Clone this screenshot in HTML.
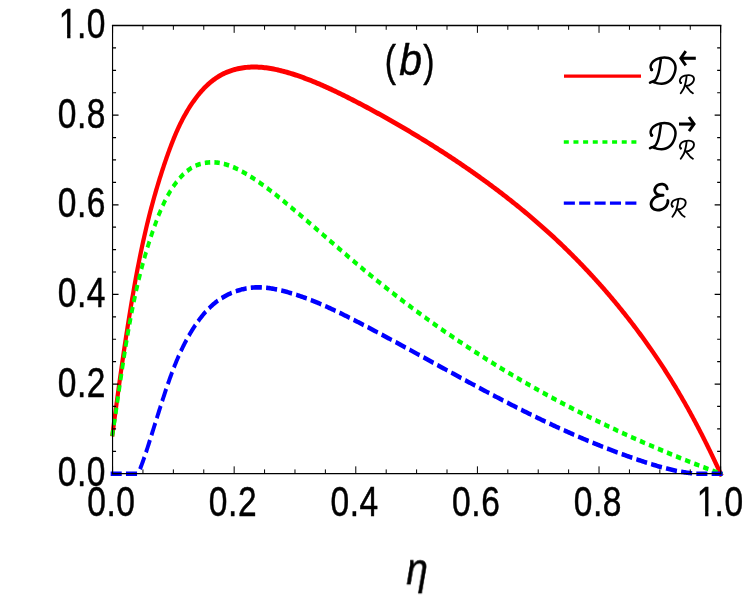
<!DOCTYPE html>
<html><head><meta charset="utf-8"><title>plot (b)</title>
<style>html,body{margin:0;padding:0;background:#fff;}svg{display:block;}text{font-family:"Liberation Sans",sans-serif;fill:#000;stroke:#000;stroke-width:0.5px;}</style>
</head><body>
<svg width="747" height="599" viewBox="0 0 747 599" style="will-change:transform">
<rect x="0" y="0" width="747" height="599" fill="#ffffff"/>
<g transform="scale(0.84,1)" fill="none" stroke-linejoin="round">
<path d="M133.60,436.27 L133.99,433.80 L134.23,432.29 L134.46,430.78 L134.70,429.27 L134.94,427.76 L135.17,426.25 L135.41,424.74 L135.65,423.23 L135.89,421.72 L136.12,420.21 L136.36,418.71 L136.60,417.20 L136.84,415.69 L137.08,414.19 L137.32,412.68 L137.56,411.17 L137.79,409.67 L138.03,408.16 L138.27,406.66 L138.52,405.16 L138.76,403.65 L139.00,402.15 L139.24,400.65 L139.48,399.14 L139.72,397.64 L139.96,396.14 L140.21,394.64 L140.45,393.14 L140.69,391.63 L140.94,390.13 L141.18,388.63 L141.43,387.13 L141.68,385.63 L141.92,384.13 L142.17,382.64 L142.42,381.14 L142.66,379.64 L142.91,378.14 L143.16,376.64 L143.41,375.14 L143.66,373.65 L143.91,372.15 L144.16,370.65 L144.42,369.16 L144.67,367.66 L144.92,366.17 L145.18,364.67 L145.43,363.18 L145.69,361.68 L145.94,360.19 L146.20,358.69 L146.46,357.20 L146.72,355.70 L146.98,354.21 L147.24,352.72 L147.50,351.22 L147.76,349.73 L148.03,348.24 L148.29,346.75 L148.55,345.25 L148.82,343.76 L149.09,342.27 L149.35,340.78 L149.62,339.29 L149.89,337.80 L150.16,336.31 L150.43,334.82 L150.71,333.33 L150.98,331.84 L151.26,330.35 L151.53,328.86 L151.81,327.37 L152.09,325.88 L152.36,324.39 L152.64,322.90 L152.93,321.41 L153.21,319.92 L153.49,318.43 L153.78,316.95 L154.06,315.46 L154.35,313.97 L154.64,312.48 L154.93,311.00 L155.22,309.51 L155.51,308.02 L155.80,306.53 L156.10,305.05 L156.39,303.56 L156.69,302.07 L156.99,300.59 L157.29,299.10 L157.59,297.62 L157.89,296.13 L158.20,294.65 L158.50,293.16 L158.81,291.67 L159.12,290.19 L159.43,288.70 L159.74,287.22 L160.05,285.73 L160.37,284.25 L160.69,282.76 L161.01,281.28 L161.33,279.80 L161.65,278.31 L161.97,276.83 L162.30,275.34 L162.63,273.86 L162.96,272.37 L163.30,270.89 L163.63,269.41 L163.97,267.92 L164.31,266.44 L164.65,264.96 L165.00,263.47 L165.35,261.99 L165.70,260.51 L166.05,259.02 L166.40,257.54 L166.76,256.06 L167.12,254.57 L167.48,253.09 L167.85,251.61 L168.22,250.12 L168.59,248.64 L168.96,247.16 L169.34,245.68 L169.72,244.19 L170.11,242.71 L170.49,241.23 L170.88,239.75 L171.27,238.26 L171.67,236.78 L172.07,235.30 L172.47,233.81 L172.88,232.33 L173.29,230.85 L173.70,229.37 L174.11,227.88 L174.53,226.40 L174.96,224.92 L175.38,223.44 L175.81,221.95 L176.25,220.47 L176.68,218.99 L177.13,217.51 L177.57,216.02 L178.02,214.54 L178.47,213.06 L178.93,211.58 L179.39,210.10 L179.85,208.61 L180.32,207.13 L180.79,205.65 L181.26,204.17 L181.74,202.70 L182.22,201.22 L182.71,199.74 L183.20,198.26 L183.69,196.79 L184.19,195.31 L184.69,193.84 L185.19,192.37 L185.70,190.90 L186.21,189.43 L186.73,187.96 L187.25,186.49 L187.77,185.03 L188.29,183.56 L188.82,182.10 L189.36,180.64 L189.89,179.18 L190.43,177.73 L190.98,176.27 L191.53,174.82 L192.08,173.37 L192.63,171.92 L193.19,170.47 L193.75,169.03 L194.32,167.58 L194.89,166.14 L195.46,164.70 L196.04,163.27 L196.62,161.84 L197.20,160.41 L197.79,158.98 L198.38,157.55 L198.97,156.13 L199.57,154.71 L200.17,153.30 L200.78,151.88 L201.39,150.47 L202.00,149.06 L202.62,147.66 L203.25,146.26 L203.88,144.86 L204.51,143.47 L205.16,142.08 L205.81,140.69 L206.47,139.31 L207.13,137.93 L207.81,136.55 L208.49,135.18 L209.18,133.81 L209.88,132.44 L210.59,131.08 L211.32,129.73 L212.05,128.37 L212.79,127.03 L213.54,125.68 L214.31,124.34 L215.09,123.00 L215.88,121.67 L216.68,120.35 L217.50,119.02 L218.33,117.71 L219.17,116.39 L220.03,115.09 L220.91,113.78 L221.79,112.48 L222.70,111.19 L223.62,109.90 L224.56,108.62 L225.51,107.34 L226.48,106.07 L227.47,104.80 L228.47,103.54 L229.50,102.28 L230.54,101.03 L231.60,99.78 L232.69,98.55 L233.79,97.32 L234.91,96.10 L236.05,94.89 L237.20,93.70 L238.38,92.52 L239.58,91.36 L240.80,90.21 L242.04,89.08 L243.30,87.97 L244.58,86.88 L245.88,85.81 L247.21,84.76 L248.55,83.74 L249.92,82.74 L251.30,81.77 L252.71,80.82 L254.14,79.91 L255.60,79.02 L257.07,78.16 L258.57,77.34 L260.08,76.54 L261.61,75.78 L263.17,75.04 L264.74,74.34 L266.32,73.67 L267.93,73.03 L269.55,72.42 L271.19,71.84 L272.84,71.30 L274.50,70.79 L276.18,70.31 L277.87,69.87 L279.58,69.46 L281.29,69.09 L283.02,68.75 L284.76,68.44 L286.50,68.16 L288.26,67.92 L290.02,67.71 L291.79,67.52 L293.56,67.37 L295.35,67.25 L297.13,67.15 L298.92,67.09 L300.72,67.05 L302.51,67.04 L304.31,67.05 L306.11,67.09 L307.91,67.16 L309.71,67.25 L311.51,67.36 L313.30,67.50 L315.10,67.65 L316.88,67.83 L318.67,68.04 L320.45,68.26 L322.23,68.50 L324.01,68.76 L325.78,69.04 L327.55,69.34 L329.31,69.65 L331.07,69.98 L332.83,70.33 L334.58,70.69 L336.33,71.07 L338.08,71.46 L339.82,71.86 L341.56,72.27 L343.29,72.70 L345.02,73.13 L346.75,73.58 L348.48,74.04 L350.20,74.50 L351.92,74.98 L353.63,75.46 L355.34,75.95 L357.05,76.45 L358.76,76.96 L360.46,77.47 L362.15,77.99 L363.85,78.53 L365.54,79.06 L367.23,79.61 L368.92,80.16 L370.60,80.72 L372.28,81.29 L373.95,81.86 L375.63,82.44 L377.30,83.03 L378.96,83.62 L380.63,84.22 L382.29,84.82 L383.95,85.43 L385.61,86.04 L387.26,86.66 L388.91,87.29 L390.56,87.92 L392.20,88.55 L393.85,89.19 L395.49,89.84 L397.12,90.48 L398.76,91.14 L400.39,91.79 L402.02,92.45 L403.65,93.11 L405.28,93.78 L406.90,94.45 L408.52,95.12 L410.14,95.80 L411.75,96.48 L413.37,97.16 L414.98,97.84 L416.59,98.53 L418.20,99.21 L419.80,99.90 L421.41,100.59 L423.01,101.29 L424.61,101.98 L426.20,102.68 L427.80,103.38 L429.39,104.08 L430.98,104.78 L432.57,105.49 L434.16,106.20 L435.75,106.90 L437.33,107.62 L438.92,108.33 L440.50,109.04 L442.08,109.76 L443.65,110.48 L445.23,111.20 L446.81,111.92 L448.38,112.65 L449.95,113.37 L451.52,114.10 L453.09,114.83 L454.66,115.56 L456.22,116.30 L457.79,117.03 L459.35,117.77 L460.92,118.51 L462.48,119.25 L464.04,119.99 L465.60,120.74 L467.15,121.49 L468.71,122.24 L470.27,122.99 L471.82,123.74 L473.38,124.49 L474.93,125.25 L476.48,126.01 L478.03,126.77 L479.58,127.53 L481.13,128.29 L482.68,129.06 L484.23,129.82 L485.77,130.59 L487.32,131.36 L488.86,132.14 L490.41,132.91 L491.95,133.69 L493.49,134.46 L495.03,135.24 L496.57,136.03 L498.11,136.81 L499.65,137.60 L501.18,138.38 L502.72,139.17 L504.25,139.96 L505.78,140.76 L507.31,141.55 L508.85,142.35 L510.37,143.15 L511.90,143.95 L513.43,144.75 L514.95,145.56 L516.48,146.36 L518.00,147.17 L519.52,147.98 L521.04,148.80 L522.56,149.61 L524.08,150.43 L525.60,151.25 L527.11,152.07 L528.62,152.89 L530.14,153.71 L531.65,154.54 L533.16,155.37 L534.66,156.20 L536.17,157.03 L537.67,157.87 L539.18,158.70 L540.68,159.54 L542.18,160.38 L543.68,161.23 L545.18,162.07 L546.67,162.92 L548.17,163.77 L549.66,164.62 L551.15,165.47 L552.64,166.33 L554.13,167.18 L555.61,168.04 L557.10,168.90 L558.58,169.77 L560.06,170.63 L561.54,171.50 L563.02,172.37 L564.49,173.24 L565.97,174.12 L567.44,174.99 L568.91,175.87 L570.38,176.75 L571.84,177.64 L573.31,178.52 L574.77,179.41 L576.23,180.30 L577.69,181.19 L579.15,182.08 L580.61,182.98 L582.06,183.88 L583.51,184.78 L584.96,185.68 L586.41,186.58 L587.85,187.49 L589.30,188.40 L590.74,189.31 L592.18,190.23 L593.62,191.14 L595.05,192.06 L596.49,192.98 L597.92,193.90 L599.35,194.83 L600.77,195.75 L602.20,196.68 L603.62,197.62 L605.04,198.55 L606.46,199.49 L607.88,200.42 L609.29,201.36 L610.70,202.31 L612.11,203.25 L613.52,204.20 L614.93,205.15 L616.33,206.10 L617.73,207.06 L619.13,208.02 L620.52,208.97 L621.92,209.94 L623.31,210.90 L624.70,211.87 L626.08,212.84 L627.47,213.81 L628.85,214.78 L630.23,215.76 L631.61,216.73 L632.98,217.72 L634.35,218.70 L635.72,219.68 L637.09,220.67 L638.45,221.66 L639.81,222.66 L641.17,223.65 L642.53,224.65 L643.88,225.65 L645.24,226.65 L646.58,227.66 L647.93,228.66 L649.27,229.67 L650.61,230.69 L651.95,231.70 L653.29,232.72 L654.62,233.74 L655.95,234.76 L657.28,235.79 L658.60,236.81 L659.92,237.84 L661.24,238.87 L662.56,239.91 L663.87,240.95 L665.18,241.99 L666.49,243.03 L667.80,244.07 L669.10,245.12 L670.40,246.17 L671.70,247.22 L672.99,248.28 L674.28,249.33 L675.57,250.39 L676.85,251.45 L678.14,252.52 L679.42,253.58 L680.69,254.65 L681.97,255.72 L683.24,256.80 L684.51,257.87 L685.77,258.95 L687.04,260.03 L688.30,261.11 L689.55,262.20 L690.81,263.29 L692.06,264.38 L693.31,265.47 L694.55,266.56 L695.80,267.66 L697.04,268.76 L698.27,269.86 L699.51,270.96 L700.74,272.07 L701.97,273.18 L703.19,274.29 L704.42,275.40 L705.64,276.52 L706.85,277.63 L708.07,278.75 L709.28,279.87 L710.48,281.00 L711.69,282.12 L712.89,283.25 L714.09,284.38 L715.29,285.51 L716.48,286.65 L717.67,287.79 L718.86,288.93 L720.04,290.07 L721.22,291.21 L722.40,292.36 L723.58,293.50 L724.75,294.65 L725.92,295.81 L727.09,296.96 L728.25,298.12 L729.41,299.28 L730.57,300.44 L731.72,301.60 L732.87,302.76 L734.02,303.93 L735.17,305.10 L736.31,306.27 L737.45,307.44 L738.59,308.62 L739.72,309.80 L740.85,310.98 L741.98,312.16 L743.10,313.34 L744.22,314.53 L745.34,315.71 L746.46,316.90 L747.57,318.09 L748.68,319.29 L749.78,320.48 L750.88,321.68 L751.98,322.88 L753.08,324.08 L754.17,325.28 L755.26,326.49 L756.35,327.70 L757.44,328.91 L758.52,330.12 L759.59,331.33 L760.67,332.55 L761.74,333.76 L762.81,334.98 L763.87,336.20 L764.94,337.43 L765.99,338.65 L767.05,339.88 L768.10,341.10 L769.15,342.34 L770.20,343.57 L771.24,344.80 L772.28,346.04 L773.31,347.27 L774.35,348.51 L775.38,349.76 L776.40,351.00 L777.43,352.24 L778.45,353.49 L779.46,354.74 L780.47,355.99 L781.48,357.24 L782.49,358.50 L783.49,359.75 L784.49,361.01 L785.49,362.27 L786.48,363.53 L787.47,364.79 L788.45,366.06 L789.44,367.32 L790.41,368.59 L791.39,369.86 L792.36,371.13 L793.33,372.41 L794.29,373.68 L795.25,374.96 L796.21,376.24 L797.17,377.52 L798.12,378.80 L799.06,380.08 L800.01,381.37 L800.95,382.65 L801.88,383.94 L802.82,385.23 L803.75,386.53 L804.67,387.82 L805.60,389.11 L806.52,390.41 L807.43,391.71 L808.35,393.01 L809.26,394.31 L810.16,395.61 L811.07,396.92 L811.97,398.22 L812.86,399.53 L813.76,400.84 L814.65,402.15 L815.54,403.46 L816.42,404.78 L817.30,406.09 L818.18,407.41 L819.06,408.73 L819.93,410.05 L820.80,411.37 L821.67,412.70 L822.53,414.02 L823.39,415.35 L824.25,416.67 L825.10,418.00 L825.95,419.33 L826.80,420.67 L827.65,422.00 L828.49,423.34 L829.33,424.67 L830.17,426.01 L831.01,427.35 L831.84,428.69 L832.67,430.03 L833.50,431.38 L834.32,432.72 L835.14,434.07 L835.96,435.42 L836.78,436.77 L837.59,438.12 L838.40,439.47 L839.21,440.82 L840.02,442.18 L840.82,443.53 L841.62,444.89 L842.42,446.25 L843.22,447.61 L844.01,448.97 L844.81,450.33 L845.59,451.70 L846.38,453.06 L847.17,454.43 L847.95,455.80 L848.73,457.17 L849.51,458.54 L850.28,459.91 L851.05,461.28 L851.83,462.66 L852.59,464.03 L853.36,465.41 L854.13,466.79 L854.89,468.17 L855.65,469.55 L856.41,470.93 L857.16,472.32 L857.92,473.70 L859.21,476.07" stroke="#ff0000" stroke-width="5.0"/>
<path d="M133.57,436.04 L133.99,433.80 L134.22,432.52 L134.46,431.24 L134.70,429.97 L134.93,428.69 L135.16,427.41 L135.40,426.13 L135.63,424.85 L135.86,423.57 L136.09,422.29 L136.32,421.01 L136.55,419.73 L136.78,418.45 L137.00,417.17 L137.23,415.89 L137.46,414.61 L137.68,413.33 L137.91,412.05 L138.13,410.77 L138.36,409.49 L138.58,408.21 L138.81,406.93 L139.03,405.64 L139.25,404.36 L139.48,403.08 L139.70,401.80 L139.92,400.52 L140.15,399.24 L140.37,397.95 L140.59,396.67 L140.81,395.39 L141.04,394.11 L141.26,392.82 L141.48,391.54 L141.71,390.26 L141.93,388.98 L142.15,387.70 L142.37,386.41 L142.60,385.13 L142.82,383.85 L143.05,382.57 L143.27,381.28 L143.50,380.00 L143.72,378.72 L143.95,377.44 L144.17,376.15 L144.40,374.87 L144.63,373.59 L144.85,372.31 L145.08,371.03 L145.31,369.74 L145.54,368.46 L145.77,367.18 L146.00,365.90 L146.24,364.62 L146.47,363.34 L146.70,362.05 L146.94,360.77 L147.17,359.49 L147.41,358.21 L147.64,356.93 L147.88,355.65 L148.12,354.37 L148.36,353.09 L148.60,351.81 L148.85,350.53 L149.09,349.25 L149.33,347.97 L149.58,346.69 L149.83,345.41 L150.08,344.14 L150.33,342.86 L150.58,341.58 L150.83,340.30 L151.09,339.02 L151.34,337.75 L151.60,336.47 L151.86,335.19 L152.12,333.92 L152.38,332.64 L152.64,331.36 L152.91,330.09 L153.18,328.81 L153.45,327.54 L153.72,326.26 L153.99,324.99 L154.26,323.72 L154.54,322.44 L154.82,321.17 L155.10,319.90 L155.38,318.62 L155.66,317.35 L155.95,316.08 L156.24,314.81 L156.53,313.54 L156.82,312.27 L157.11,311.00 L157.41,309.73 L157.71,308.46 L158.01,307.19 L158.31,305.92 L158.62,304.65 L158.93,303.39 L159.24,302.12 L159.55,300.85 L159.86,299.59 L160.18,298.32 L160.50,297.06 L160.83,295.79 L161.15,294.53 L161.48,293.27 L161.81,292.00 L162.14,290.74 L162.48,289.48 L162.82,288.22 L163.16,286.96 L163.51,285.70 L163.85,284.44 L164.20,283.18 L164.56,281.92 L164.91,280.66 L165.27,279.40 L165.64,278.15 L166.00,276.89 L166.37,275.64 L166.74,274.38 L167.12,273.13 L167.50,271.88 L167.88,270.62 L168.26,269.37 L168.65,268.12 L169.04,266.87 L169.44,265.62 L169.83,264.37 L170.23,263.12 L170.64,261.87 L171.05,260.63 L171.46,259.38 L171.88,258.13 L172.30,256.89 L172.72,255.64 L173.14,254.40 L173.57,253.16 L174.01,251.92 L174.45,250.67 L174.89,249.43 L175.33,248.19 L175.78,246.95 L176.24,245.72 L176.69,244.48 L177.15,243.24 L177.62,242.01 L178.09,240.77 L178.56,239.54 L179.04,238.31 L179.52,237.07 L180.01,235.84 L180.50,234.61 L180.99,233.38 L181.49,232.15 L181.99,230.92 L182.50,229.70 L183.01,228.47 L183.52,227.25 L184.04,226.02 L184.57,224.80 L185.10,223.58 L185.63,222.35 L186.17,221.13 L186.71,219.92 L187.26,218.70 L187.82,217.48 L188.38,216.27 L188.95,215.06 L189.52,213.85 L190.11,212.64 L190.70,211.44 L191.30,210.24 L191.91,209.05 L192.52,207.86 L193.15,206.67 L193.79,205.49 L194.43,204.31 L195.09,203.14 L195.76,201.97 L196.44,200.80 L197.13,199.65 L197.83,198.50 L198.55,197.35 L199.27,196.21 L200.01,195.08 L200.77,193.95 L201.54,192.84 L202.32,191.73 L203.12,190.62 L203.93,189.53 L204.76,188.44 L205.61,187.36 L206.47,186.29 L207.35,185.23 L208.24,184.18 L209.15,183.14 L210.08,182.10 L211.03,181.08 L212.00,180.07 L212.98,179.08 L213.99,178.10 L215.01,177.14 L216.06,176.19 L217.12,175.27 L218.21,174.36 L219.32,173.48 L220.44,172.63 L221.60,171.79 L222.77,170.99 L223.96,170.21 L225.18,169.46 L226.43,168.75 L227.69,168.06 L228.98,167.41 L230.30,166.80 L231.64,166.22 L233.01,165.68 L234.40,165.18 L235.81,164.72 L237.26,164.30 L238.72,163.92 L240.21,163.58 L241.71,163.29 L243.23,163.03 L244.77,162.82 L246.31,162.64 L247.86,162.51 L249.42,162.41 L250.98,162.35 L252.55,162.33 L254.11,162.35 L255.67,162.41 L257.22,162.50 L258.76,162.63 L260.30,162.80 L261.82,163.01 L263.33,163.24 L264.84,163.52 L266.33,163.82 L267.82,164.15 L269.30,164.52 L270.77,164.91 L272.22,165.32 L273.68,165.77 L275.12,166.23 L276.55,166.72 L277.98,167.24 L279.39,167.77 L280.80,168.32 L282.20,168.89 L283.59,169.47 L284.98,170.08 L286.36,170.69 L287.73,171.32 L289.09,171.96 L290.44,172.61 L291.79,173.27 L293.13,173.93 L294.47,174.61 L295.80,175.29 L297.12,175.98 L298.43,176.67 L299.74,177.37 L301.04,178.08 L302.34,178.79 L303.63,179.51 L304.91,180.23 L306.19,180.96 L307.47,181.70 L308.74,182.44 L310.00,183.19 L311.26,183.94 L312.52,184.70 L313.77,185.46 L315.01,186.22 L316.25,186.99 L317.49,187.77 L318.72,188.54 L319.95,189.33 L321.18,190.11 L322.40,190.90 L323.62,191.69 L324.84,192.49 L326.05,193.29 L327.26,194.09 L328.46,194.90 L329.67,195.70 L330.87,196.51 L332.07,197.33 L333.27,198.14 L334.46,198.96 L335.65,199.78 L336.85,200.60 L338.04,201.42 L339.22,202.24 L340.41,203.06 L341.60,203.89 L342.78,204.72 L343.97,205.54 L345.15,206.37 L346.33,207.20 L347.51,208.03 L348.69,208.87 L349.87,209.70 L351.05,210.53 L352.22,211.37 L353.40,212.20 L354.57,213.04 L355.75,213.88 L356.92,214.71 L358.09,215.55 L359.26,216.39 L360.43,217.23 L361.60,218.07 L362.77,218.92 L363.94,219.76 L365.11,220.60 L366.28,221.44 L367.44,222.29 L368.61,223.13 L369.77,223.98 L370.94,224.82 L372.10,225.67 L373.27,226.52 L374.43,227.36 L375.60,228.21 L376.76,229.06 L377.92,229.90 L379.09,230.75 L380.25,231.60 L381.41,232.45 L382.57,233.30 L383.74,234.15 L384.90,234.99 L386.06,235.84 L387.22,236.69 L388.38,237.54 L389.55,238.39 L390.71,239.24 L391.87,240.09 L393.03,240.94 L394.19,241.79 L395.36,242.63 L396.52,243.48 L397.68,244.33 L398.85,245.18 L400.01,246.03 L401.17,246.87 L402.34,247.72 L403.50,248.57 L404.67,249.41 L405.83,250.26 L407.00,251.11 L408.16,251.95 L409.33,252.80 L410.50,253.64 L411.67,254.48 L412.84,255.33 L414.00,256.17 L415.17,257.01 L416.35,257.85 L417.52,258.69 L418.69,259.53 L419.86,260.37 L421.04,261.21 L422.21,262.05 L423.39,262.89 L424.56,263.72 L425.74,264.56 L426.92,265.39 L428.10,266.22 L429.28,267.06 L430.46,267.89 L431.64,268.72 L432.83,269.55 L434.01,270.38 L435.20,271.20 L436.39,272.03 L437.57,272.86 L438.76,273.68 L439.95,274.50 L441.15,275.32 L442.34,276.15 L443.53,276.97 L444.73,277.78 L445.93,278.60 L447.12,279.42 L448.32,280.24 L449.52,281.05 L450.72,281.86 L451.92,282.68 L453.13,283.49 L454.33,284.30 L455.54,285.11 L456.74,285.92 L457.95,286.72 L459.16,287.53 L460.37,288.33 L461.58,289.14 L462.79,289.94 L464.00,290.74 L465.22,291.54 L466.43,292.34 L467.65,293.14 L468.86,293.94 L470.08,294.74 L471.30,295.53 L472.52,296.32 L473.74,297.12 L474.97,297.91 L476.19,298.70 L477.41,299.49 L478.64,300.28 L479.87,301.07 L481.09,301.85 L482.32,302.64 L483.55,303.42 L484.78,304.21 L486.02,304.99 L487.25,305.77 L488.48,306.55 L489.72,307.33 L490.95,308.10 L492.19,308.88 L493.43,309.66 L494.67,310.43 L495.91,311.20 L497.15,311.97 L498.39,312.74 L499.64,313.51 L500.88,314.28 L502.13,315.05 L503.37,315.82 L504.62,316.58 L505.87,317.34 L507.12,318.11 L508.37,318.87 L509.62,319.63 L510.87,320.39 L512.13,321.15 L513.38,321.90 L514.64,322.66 L515.90,323.41 L517.15,324.17 L518.41,324.92 L519.67,325.67 L520.93,326.42 L522.19,327.17 L523.46,327.92 L524.72,328.66 L525.99,329.41 L527.25,330.15 L528.52,330.90 L529.79,331.64 L531.05,332.38 L532.32,333.12 L533.59,333.85 L534.87,334.59 L536.14,335.33 L537.41,336.06 L538.69,336.80 L539.96,337.53 L541.24,338.26 L542.52,338.99 L543.79,339.72 L545.07,340.44 L546.35,341.17 L547.63,341.89 L548.92,342.62 L550.20,343.34 L551.48,344.06 L552.77,344.78 L554.05,345.50 L555.34,346.22 L556.63,346.94 L557.92,347.65 L559.21,348.36 L560.50,349.08 L561.79,349.79 L563.08,350.50 L564.38,351.21 L565.67,351.92 L566.97,352.62 L568.26,353.33 L569.56,354.03 L570.86,354.73 L572.16,355.44 L573.46,356.14 L574.76,356.84 L576.06,357.53 L577.36,358.23 L578.66,358.93 L579.97,359.62 L581.27,360.31 L582.58,361.00 L583.89,361.69 L585.20,362.38 L586.50,363.07 L587.81,363.76 L589.13,364.44 L590.44,365.13 L591.75,365.81 L593.06,366.49 L594.38,367.17 L595.69,367.85 L597.01,368.53 L598.33,369.20 L599.64,369.88 L600.96,370.55 L602.28,371.22 L603.60,371.90 L604.92,372.57 L606.25,373.23 L607.57,373.90 L608.89,374.57 L610.22,375.23 L611.54,375.90 L612.87,376.56 L614.20,377.22 L615.53,377.88 L616.85,378.54 L618.18,379.19 L619.52,379.85 L620.85,380.50 L622.18,381.16 L623.51,381.81 L624.85,382.46 L626.18,383.11 L627.52,383.76 L628.85,384.40 L630.19,385.05 L631.53,385.69 L632.87,386.33 L634.21,386.97 L635.55,387.61 L636.89,388.25 L638.23,388.89 L639.58,389.52 L640.92,390.16 L642.27,390.79 L643.61,391.42 L644.96,392.05 L646.31,392.68 L647.66,393.31 L649.00,393.94 L650.35,394.56 L651.70,395.19 L653.06,395.81 L654.41,396.43 L655.76,397.05 L657.11,397.67 L658.47,398.29 L659.82,398.90 L661.18,399.52 L662.54,400.13 L663.90,400.74 L665.25,401.35 L666.61,401.96 L667.97,402.57 L669.33,403.18 L670.70,403.78 L672.06,404.39 L673.42,404.99 L674.79,405.59 L676.15,406.19 L677.52,406.79 L678.88,407.39 L680.25,407.98 L681.62,408.58 L682.99,409.17 L684.35,409.77 L685.72,410.36 L687.10,410.95 L688.47,411.54 L689.84,412.13 L691.21,412.71 L692.59,413.30 L693.96,413.88 L695.34,414.46 L696.71,415.04 L698.09,415.63 L699.47,416.20 L700.84,416.78 L702.22,417.36 L703.60,417.93 L704.98,418.51 L706.36,419.08 L707.75,419.65 L709.13,420.22 L710.51,420.79 L711.90,421.36 L713.28,421.93 L714.67,422.49 L716.05,423.06 L717.44,423.62 L718.83,424.18 L720.21,424.74 L721.60,425.30 L722.99,425.86 L724.38,426.42 L725.77,426.97 L727.17,427.53 L728.56,428.08 L729.95,428.63 L731.35,429.18 L732.74,429.73 L734.13,430.28 L735.53,430.83 L736.93,431.37 L738.32,431.92 L739.72,432.46 L741.12,433.01 L742.52,433.55 L743.92,434.09 L745.32,434.63 L746.72,435.16 L748.12,435.70 L749.53,436.24 L750.93,436.77 L752.33,437.31 L753.74,437.84 L755.14,438.37 L756.55,438.90 L757.96,439.43 L759.36,439.95 L760.77,440.48 L762.18,441.01 L763.59,441.53 L765.00,442.05 L766.41,442.58 L767.82,443.10 L769.23,443.62 L770.64,444.13 L772.06,444.65 L773.47,445.17 L774.88,445.68 L776.30,446.20 L777.71,446.71 L779.13,447.22 L780.55,447.73 L781.96,448.24 L783.38,448.75 L784.80,449.26 L786.22,449.76 L787.64,450.27 L789.06,450.77 L790.48,451.27 L791.90,451.78 L793.32,452.28 L794.75,452.78 L796.17,453.27 L797.60,453.77 L799.02,454.27 L800.44,454.76 L801.87,455.26 L803.30,455.75 L804.72,456.24 L806.15,456.73 L807.58,457.22 L809.01,457.71 L810.44,458.20 L811.87,458.69 L813.30,459.17 L814.73,459.65 L816.16,460.14 L817.59,460.62 L819.03,461.10 L820.46,461.58 L821.89,462.06 L823.33,462.54 L824.76,463.02 L826.20,463.49 L827.63,463.97 L829.07,464.44 L830.51,464.91 L831.95,465.39 L833.38,465.86 L834.82,466.33 L836.26,466.79 L837.70,467.26 L839.14,467.73 L840.58,468.19 L842.02,468.66 L843.47,469.12 L844.91,469.58 L846.35,470.05 L847.80,470.51 L849.24,470.97 L850.69,471.42 L852.13,471.88 L853.58,472.34 L855.02,472.79 L856.47,473.25 L857.92,473.70 L860.11,474.39" stroke="#00ff00" stroke-width="4.6" stroke-dasharray="6.4 5.0" stroke-dashoffset="0.3"/>
<path d="M131.73,473.70 L164.52,473.70" stroke="#0000ff" stroke-width="4.6" stroke-dasharray="13.2 5.036" stroke-dashoffset="0"/>
<path d="M164.52,473.70 L164.99,472.75 L165.44,471.80 L165.90,470.84 L166.35,469.89 L166.79,468.93 L167.23,467.98 L167.66,467.02 L168.09,466.07 L168.52,465.11 L168.94,464.15 L169.35,463.19 L169.77,462.23 L170.18,461.27 L170.58,460.30 L170.99,459.34 L171.38,458.38 L171.78,457.41 L172.17,456.45 L172.57,455.48 L172.95,454.51 L173.34,453.55 L173.72,452.58 L174.10,451.61 L174.48,450.64 L174.86,449.67 L175.23,448.70 L175.61,447.73 L175.98,446.76 L176.35,445.79 L176.72,444.82 L177.09,443.85 L177.46,442.87 L177.82,441.90 L178.19,440.93 L178.56,439.95 L178.92,438.98 L179.29,438.00 L179.65,437.03 L180.02,436.05 L180.38,435.08 L180.74,434.10 L181.11,433.13 L181.47,432.15 L181.84,431.18 L182.20,430.20 L182.56,429.22 L182.93,428.24 L183.29,427.27 L183.65,426.29 L184.02,425.31 L184.38,424.34 L184.74,423.36 L185.11,422.38 L185.47,421.40 L185.83,420.43 L186.20,419.45 L186.56,418.47 L186.93,417.50 L187.29,416.52 L187.66,415.54 L188.02,414.56 L188.39,413.59 L188.76,412.61 L189.12,411.63 L189.49,410.66 L189.86,409.68 L190.23,408.71 L190.60,407.73 L190.97,406.75 L191.34,405.78 L191.71,404.80 L192.08,403.83 L192.45,402.85 L192.82,401.88 L193.20,400.91 L193.57,399.93 L193.95,398.96 L194.32,397.99 L194.70,397.02 L195.08,396.05 L195.46,395.07 L195.84,394.10 L196.22,393.13 L196.60,392.16 L196.98,391.20 L197.37,390.23 L197.75,389.26 L198.14,388.29 L198.53,387.33 L198.92,386.36 L199.31,385.40 L199.70,384.43 L200.10,383.47 L200.50,382.50 L200.90,381.54 L201.30,380.58 L201.70,379.62 L202.11,378.66 L202.52,377.70 L202.93,376.74 L203.34,375.79 L203.76,374.83 L204.18,373.87 L204.60,372.92 L205.02,371.97 L205.45,371.01 L205.88,370.06 L206.31,369.11 L206.75,368.16 L207.19,367.22 L207.64,366.27 L208.08,365.32 L208.53,364.38 L208.99,363.43 L209.45,362.49 L209.91,361.55 L210.37,360.61 L210.84,359.67 L211.32,358.74 L211.80,357.80 L212.28,356.86 L212.77,355.93 L213.26,355.00 L213.75,354.07 L214.26,353.14 L214.76,352.21 L215.27,351.28 L215.79,350.36 L216.31,349.44 L216.83,348.51 L217.36,347.59 L217.90,346.68 L218.44,345.76 L218.98,344.84 L219.53,343.93 L220.09,343.02 L220.65,342.10 L221.22,341.20 L221.79,340.29 L222.37,339.38 L222.96,338.48 L223.55,337.58 L224.15,336.68 L224.75,335.78 L225.37,334.89 L225.98,333.99 L226.60,333.10 L227.23,332.22 L227.87,331.33 L228.51,330.45 L229.16,329.58 L229.82,328.70 L230.48,327.83 L231.15,326.96 L231.83,326.10 L232.51,325.24 L233.20,324.38 L233.90,323.53 L234.61,322.68 L235.32,321.84 L236.04,321.00 L236.77,320.17 L237.51,319.34 L238.25,318.51 L239.00,317.69 L239.76,316.88 L240.53,316.07 L241.30,315.27 L242.09,314.47 L242.88,313.68 L243.68,312.90 L244.49,312.12 L245.31,311.36 L246.14,310.60 L246.98,309.85 L247.83,309.11 L248.68,308.38 L249.55,307.65 L250.43,306.94 L251.32,306.24 L252.22,305.55 L253.13,304.87 L254.05,304.20 L254.98,303.54 L255.92,302.89 L256.87,302.25 L257.84,301.63 L258.81,301.02 L259.79,300.42 L260.79,299.83 L261.79,299.26 L262.80,298.70 L263.82,298.15 L264.85,297.61 L265.89,297.08 L266.94,296.57 L268.00,296.07 L269.06,295.58 L270.13,295.11 L271.21,294.65 L272.30,294.20 L273.39,293.77 L274.50,293.35 L275.60,292.94 L276.72,292.54 L277.84,292.16 L278.97,291.80 L280.10,291.44 L281.24,291.11 L282.38,290.78 L283.53,290.47 L284.68,290.17 L285.84,289.89 L287.01,289.62 L288.17,289.37 L289.35,289.13 L290.52,288.90 L291.70,288.69 L292.88,288.50 L294.07,288.32 L295.26,288.15 L296.45,288.00 L297.65,287.87 L298.84,287.75 L300.04,287.64 L301.24,287.55 L302.45,287.48 L303.65,287.42 L304.86,287.38 L306.06,287.35 L307.27,287.34 L308.48,287.35 L309.69,287.37 L310.90,287.40 L312.11,287.45 L313.32,287.51 L314.53,287.58 L315.74,287.67 L316.95,287.77 L318.16,287.88 L319.37,288.01 L320.58,288.14 L321.79,288.29 L323.00,288.45 L324.20,288.62 L325.41,288.79 L326.62,288.98 L327.82,289.18 L329.03,289.38 L330.23,289.59 L331.43,289.82 L332.63,290.04 L333.83,290.28 L335.02,290.52 L336.22,290.77 L337.41,291.03 L338.60,291.29 L339.79,291.56 L340.98,291.83 L342.16,292.10 L343.34,292.39 L344.52,292.67 L345.70,292.96 L346.87,293.25 L348.04,293.55 L349.21,293.86 L350.38,294.16 L351.54,294.47 L352.71,294.79 L353.87,295.11 L355.03,295.43 L356.18,295.76 L357.34,296.09 L358.49,296.42 L359.64,296.76 L360.79,297.10 L361.93,297.45 L363.08,297.80 L364.22,298.15 L365.36,298.51 L366.50,298.87 L367.64,299.23 L368.77,299.60 L369.91,299.97 L371.04,300.34 L372.17,300.72 L373.29,301.10 L374.42,301.48 L375.55,301.87 L376.67,302.25 L377.79,302.65 L378.91,303.04 L380.03,303.44 L381.15,303.84 L382.26,304.24 L383.38,304.65 L384.49,305.06 L385.60,305.47 L386.71,305.88 L387.82,306.30 L388.93,306.71 L390.03,307.13 L391.14,307.56 L392.24,307.98 L393.34,308.41 L394.45,308.84 L395.55,309.27 L396.65,309.71 L397.74,310.14 L398.84,310.58 L399.94,311.02 L401.03,311.46 L402.13,311.90 L403.22,312.35 L404.31,312.80 L405.40,313.25 L406.49,313.70 L407.58,314.15 L408.67,314.60 L409.76,315.05 L410.85,315.51 L411.93,315.97 L413.02,316.43 L414.11,316.89 L415.19,317.35 L416.28,317.81 L417.36,318.27 L418.44,318.74 L419.52,319.20 L420.61,319.67 L421.69,320.14 L422.77,320.60 L423.85,321.07 L424.93,321.54 L426.01,322.01 L427.09,322.48 L428.17,322.95 L429.25,323.43 L430.33,323.90 L431.41,324.37 L432.49,324.84 L433.57,325.32 L434.64,325.79 L435.72,326.27 L436.80,326.74 L437.88,327.22 L438.95,327.70 L440.03,328.17 L441.11,328.65 L442.18,329.13 L443.26,329.61 L444.33,330.09 L445.41,330.56 L446.49,331.04 L447.56,331.52 L448.64,332.01 L449.71,332.49 L450.78,332.97 L451.86,333.45 L452.93,333.93 L454.01,334.41 L455.08,334.90 L456.15,335.38 L457.23,335.87 L458.30,336.35 L459.37,336.83 L460.45,337.32 L461.52,337.80 L462.59,338.29 L463.66,338.78 L464.74,339.26 L465.81,339.75 L466.88,340.24 L467.95,340.72 L469.02,341.21 L470.09,341.70 L471.17,342.19 L472.24,342.68 L473.31,343.16 L474.38,343.65 L475.45,344.14 L476.52,344.63 L477.59,345.12 L478.66,345.61 L479.73,346.10 L480.80,346.59 L481.87,347.08 L482.94,347.57 L484.01,348.07 L485.08,348.56 L486.15,349.05 L487.22,349.54 L488.29,350.03 L489.36,350.52 L490.43,351.02 L491.50,351.51 L492.57,352.00 L493.64,352.49 L494.71,352.99 L495.77,353.48 L496.84,353.97 L497.91,354.47 L498.98,354.96 L500.05,355.45 L501.12,355.95 L502.19,356.44 L503.26,356.93 L504.32,357.43 L505.39,357.92 L506.46,358.41 L507.53,358.91 L508.60,359.40 L509.67,359.90 L510.74,360.39 L511.80,360.88 L512.87,361.38 L513.94,361.87 L515.01,362.37 L516.08,362.86 L517.15,363.35 L518.22,363.85 L519.28,364.34 L520.35,364.84 L521.42,365.33 L522.49,365.82 L523.56,366.32 L524.63,366.81 L525.70,367.30 L526.77,367.80 L527.83,368.29 L528.90,368.78 L529.97,369.28 L531.04,369.77 L532.11,370.26 L533.18,370.76 L534.25,371.25 L535.32,371.74 L536.39,372.24 L537.46,372.73 L538.53,373.22 L539.60,373.71 L540.67,374.20 L541.73,374.70 L542.80,375.19 L543.87,375.68 L544.94,376.17 L546.01,376.66 L547.09,377.15 L548.16,377.64 L549.23,378.13 L550.30,378.62 L551.37,379.11 L552.44,379.60 L553.51,380.09 L554.58,380.58 L555.65,381.07 L556.72,381.56 L557.79,382.05 L558.87,382.54 L559.94,383.02 L561.01,383.51 L562.08,384.00 L563.15,384.49 L564.23,384.97 L565.30,385.46 L566.37,385.95 L567.45,386.43 L568.52,386.92 L569.59,387.40 L570.67,387.89 L571.74,388.37 L572.81,388.85 L573.89,389.34 L574.96,389.82 L576.04,390.30 L577.11,390.79 L578.19,391.27 L579.26,391.75 L580.34,392.23 L581.41,392.71 L582.49,393.19 L583.56,393.67 L584.64,394.15 L585.72,394.63 L586.79,395.11 L587.87,395.59 L588.95,396.06 L590.03,396.54 L591.10,397.02 L592.18,397.49 L593.26,397.97 L594.34,398.44 L595.42,398.92 L596.50,399.39 L597.58,399.86 L598.66,400.34 L599.74,400.81 L600.82,401.28 L601.90,401.75 L602.98,402.22 L604.06,402.69 L605.14,403.16 L606.22,403.63 L607.30,404.10 L608.39,404.57 L609.47,405.03 L610.55,405.50 L611.63,405.97 L612.72,406.43 L613.80,406.90 L614.89,407.36 L615.97,407.82 L617.06,408.29 L618.14,408.75 L619.23,409.21 L620.31,409.67 L621.40,410.13 L622.49,410.59 L623.57,411.05 L624.66,411.51 L625.75,411.96 L626.84,412.42 L627.92,412.87 L629.01,413.33 L630.10,413.78 L631.19,414.24 L632.28,414.69 L633.37,415.14 L634.46,415.59 L635.55,416.04 L636.65,416.49 L637.74,416.94 L638.83,417.39 L639.92,417.84 L641.02,418.28 L642.11,418.73 L643.20,419.17 L644.30,419.62 L645.39,420.06 L646.49,420.50 L647.59,420.94 L648.68,421.38 L649.78,421.82 L650.88,422.26 L651.97,422.70 L653.07,423.14 L654.17,423.57 L655.27,424.01 L656.37,424.44 L657.47,424.88 L658.57,425.31 L659.67,425.74 L660.77,426.17 L661.87,426.60 L662.97,427.03 L664.08,427.46 L665.18,427.89 L666.28,428.31 L667.39,428.74 L668.49,429.16 L669.60,429.58 L670.71,430.01 L671.81,430.43 L672.92,430.85 L674.03,431.27 L675.13,431.69 L676.24,432.10 L677.35,432.52 L678.46,432.94 L679.57,433.35 L680.68,433.76 L681.79,434.18 L682.90,434.59 L684.02,435.00 L685.13,435.41 L686.24,435.82 L687.36,436.22 L688.47,436.63 L689.59,437.04 L690.70,437.44 L691.82,437.84 L692.93,438.25 L694.05,438.65 L695.17,439.05 L696.29,439.45 L697.41,439.84 L698.53,440.24 L699.65,440.64 L700.77,441.03 L701.89,441.43 L703.01,441.82 L704.13,442.21 L705.26,442.60 L706.38,442.99 L707.51,443.38 L708.63,443.76 L709.76,444.15 L710.88,444.53 L712.01,444.92 L713.14,445.30 L714.27,445.68 L715.40,446.06 L716.53,446.44 L717.66,446.82 L718.79,447.19 L719.92,447.57 L721.05,447.94 L722.19,448.32 L723.32,448.69 L724.45,449.06 L725.59,449.43 L726.72,449.79 L727.86,450.16 L729.00,450.53 L730.14,450.89 L731.27,451.25 L732.41,451.62 L733.55,451.98 L734.69,452.34 L735.84,452.70 L736.98,453.05 L738.12,453.41 L739.27,453.76 L740.41,454.12 L741.55,454.47 L742.70,454.82 L743.85,455.17 L744.99,455.52 L746.14,455.86 L747.29,456.21 L748.44,456.55 L749.59,456.89 L750.74,457.24 L751.89,457.58 L753.05,457.91 L754.20,458.25 L755.35,458.59 L756.51,458.92 L757.66,459.26 L758.82,459.59 L759.98,459.92 L761.14,460.25 L762.30,460.58 L763.46,460.90 L764.62,461.23 L765.78,461.55 L766.94,461.87 L768.10,462.19 L769.27,462.51 L770.43,462.83 L771.60,463.15 L772.76,463.46 L773.93,463.77 L775.10,464.08 L776.27,464.38 L777.43,464.69 L778.61,464.99 L779.78,465.28 L780.95,465.58 L782.12,465.87 L783.30,466.16 L784.47,466.44 L785.65,466.73 L786.82,467.00 L788.00,467.28 L789.18,467.55 L790.36,467.82 L791.54,468.08 L792.72,468.34 L793.90,468.60 L795.08,468.85 L796.26,469.09 L797.45,469.34 L798.63,469.57 L799.82,469.81 L801.01,470.04 L802.20,470.26 L803.38,470.48 L804.57,470.69 L805.77,470.90 L806.96,471.10 L808.15,471.30 L809.34,471.49 L810.54,471.68 L811.73,471.86 L812.93,472.03 L814.13,472.20 L815.33,472.36 L816.52,472.51 L817.73,472.66 L818.93,472.81 L820.13,472.94 L821.33,473.07 L822.54,473.19 L823.74,473.31 L824.95,473.42 L826.15,473.52 L827.36,473.61 L828.57,473.70 L860.18,473.70" stroke="#0000ff" stroke-width="4.6" stroke-dasharray="13.2 5.036" stroke-dashoffset="13.2"/>
</g>
<g stroke="#000" fill="none">
<path d="M112.55,25.5 H720.65 M112.55,473.7 H720.65" stroke-width="1.3" stroke-linecap="square"/>
<path d="M112.55,25.5 V473.7 M720.65,25.5 V473.7" stroke-width="1.15" stroke-linecap="square"/>
<path d="M112.55,473.7 v-7.35 M112.55,25.5 v7.35 M142.95,473.7 v-4.3 M142.95,25.5 v4.3 M173.36,473.7 v-4.3 M173.36,25.5 v4.3 M203.77,473.7 v-4.3 M203.77,25.5 v4.3 M234.17,473.7 v-7.35 M234.17,25.5 v7.35 M264.57,473.7 v-4.3 M264.57,25.5 v4.3 M294.98,473.7 v-4.3 M294.98,25.5 v4.3 M325.39,473.7 v-4.3 M325.39,25.5 v4.3 M355.79,473.7 v-7.35 M355.79,25.5 v7.35 M386.20,473.7 v-4.3 M386.20,25.5 v4.3 M416.60,473.7 v-4.3 M416.60,25.5 v4.3 M447.01,473.7 v-4.3 M447.01,25.5 v4.3 M477.41,473.7 v-7.35 M477.41,25.5 v7.35 M507.82,473.7 v-4.3 M507.82,25.5 v4.3 M538.22,473.7 v-4.3 M538.22,25.5 v4.3 M568.62,473.7 v-4.3 M568.62,25.5 v4.3 M599.03,473.7 v-7.35 M599.03,25.5 v7.35 M629.44,473.7 v-4.3 M629.44,25.5 v4.3 M659.84,473.7 v-4.3 M659.84,25.5 v4.3 M690.25,473.7 v-4.3 M690.25,25.5 v4.3 M720.65,473.7 v-7.35 M720.65,25.5 v7.35" stroke-width="1.0"/>
<path d="M112.55,473.70 h6.0 M720.65,473.70 h-6.0 M112.55,451.29 h3.5 M720.65,451.29 h-3.5 M112.55,428.88 h3.5 M720.65,428.88 h-3.5 M112.55,406.47 h3.5 M720.65,406.47 h-3.5 M112.55,384.06 h6.0 M720.65,384.06 h-6.0 M112.55,361.65 h3.5 M720.65,361.65 h-3.5 M112.55,339.24 h3.5 M720.65,339.24 h-3.5 M112.55,316.83 h3.5 M720.65,316.83 h-3.5 M112.55,294.42 h6.0 M720.65,294.42 h-6.0 M112.55,272.01 h3.5 M720.65,272.01 h-3.5 M112.55,249.60 h3.5 M720.65,249.60 h-3.5 M112.55,227.19 h3.5 M720.65,227.19 h-3.5 M112.55,204.78 h6.0 M720.65,204.78 h-6.0 M112.55,182.37 h3.5 M720.65,182.37 h-3.5 M112.55,159.96 h3.5 M720.65,159.96 h-3.5 M112.55,137.55 h3.5 M720.65,137.55 h-3.5 M112.55,115.14 h6.0 M720.65,115.14 h-6.0 M112.55,92.73 h3.5 M720.65,92.73 h-3.5 M112.55,70.32 h3.5 M720.65,70.32 h-3.5 M112.55,47.91 h3.5 M720.65,47.91 h-3.5 M112.55,25.50 h6.0 M720.65,25.50 h-6.0" stroke-width="1.2"/>
</g>
<g style="filter:opacity(1)">
<text transform="translate(106.05,486) scale(0.775,1)" font-size="43.3" letter-spacing="0.7" text-anchor="end">0.0</text>
<text transform="translate(106.05,397) scale(0.775,1)" font-size="43.3" letter-spacing="0.7" text-anchor="end">0.2</text>
<text transform="translate(106.05,307) scale(0.775,1)" font-size="43.3" letter-spacing="0.7" text-anchor="end">0.4</text>
<text transform="translate(106.05,217) scale(0.775,1)" font-size="43.3" letter-spacing="0.7" text-anchor="end">0.6</text>
<text transform="translate(106.05,128) scale(0.775,1)" font-size="43.3" letter-spacing="0.7" text-anchor="end">0.8</text>
<text transform="translate(77.88,38) scale(0.775,1)" font-size="43.3" letter-spacing="0.7" text-anchor="end">1</text>
<text transform="translate(106.05,38) scale(0.775,1)" font-size="43.3" letter-spacing="0.7" text-anchor="end">.0</text>
<text transform="translate(111.35,516) scale(0.775,1)" font-size="43.3" letter-spacing="0.7" text-anchor="middle">0.0</text>
<text transform="translate(232.97,516) scale(0.775,1)" font-size="43.3" letter-spacing="0.7" text-anchor="middle">0.2</text>
<text transform="translate(354.59,516) scale(0.775,1)" font-size="43.3" letter-spacing="0.7" text-anchor="middle">0.4</text>
<text transform="translate(476.21,516) scale(0.775,1)" font-size="43.3" letter-spacing="0.7" text-anchor="middle">0.6</text>
<text transform="translate(597.83,516) scale(0.775,1)" font-size="43.3" letter-spacing="0.7" text-anchor="middle">0.8</text>
<text transform="translate(696.71,516) scale(0.775,1)" font-size="43.3" letter-spacing="0.7" text-anchor="start">1</text>
<text transform="translate(714.52,516) scale(0.775,1)" font-size="43.3" letter-spacing="0.7" text-anchor="start">.0</text>
<text transform="translate(417,584.2) scale(0.885,1)" font-size="43.5" font-style="italic" text-anchor="middle">&#951;</text>
<text transform="translate(384.8,75.6) scale(0.745,1)" font-size="45.2" text-anchor="start">(</text>
<text transform="translate(399.2,75.4) scale(0.93,1)" font-size="44" font-style="italic" text-anchor="start">b</text>
<text transform="translate(434.4,75.6) scale(0.745,1)" font-size="45.2" text-anchor="end">)</text>
</g>
<path d="M59.5,33.7 H67.12 V39.2 H59.5 Z M70.46,33.7 H77.5 V39.2 H70.46 Z M697.5,511.7 H705.12 V517.2 H697.5 Z M708.46,511.7 H716.5 V517.2 H708.46 Z" fill="#fff"/>
<g fill="none" stroke-width="3.3">
<path d="M564,76.1 H641" stroke="#ff0000"/>
<path d="M563.8,142 H636.4" stroke="#00ff00" stroke-dasharray="5 4.657"/>
<path d="M563.8,203.1 H636.4" stroke="#0000ff" stroke-dasharray="11.08 4.3"/>
</g>
<path d="M651.68,70.00 C651.51,69.61 650.79,68.55 650.68,67.66 C650.56,66.77 650.62,65.66 651.01,64.66 C651.40,63.66 652.12,62.54 653.01,61.65 C653.90,60.76 655.13,59.93 656.35,59.32 C657.58,58.70 659.02,58.28 660.36,57.98 C661.69,57.68 663.03,57.51 664.37,57.51 C665.70,57.51 667.15,57.62 668.37,57.98 C669.60,58.34 670.77,58.93 671.71,59.65 C672.66,60.37 673.44,61.26 674.05,62.32 C674.66,63.38 675.16,64.77 675.38,65.99 C675.61,67.22 675.55,68.39 675.38,69.67 C675.22,70.95 674.88,72.34 674.38,73.67 C673.88,75.01 673.21,76.45 672.38,77.68 C671.54,78.90 670.49,80.13 669.37,81.02 C668.26,81.91 666.98,82.55 665.70,83.02 C664.42,83.49 663.03,83.77 661.69,83.82 C660.36,83.88 658.91,83.62 657.69,83.36 C656.46,83.09 655.29,82.50 654.35,82.22 C653.40,81.94 652.74,81.61 652.01,81.69 C651.29,81.76 650.34,82.52 650.01,82.69 M661.03,58.18 C660.89,59.09 660.54,61.63 660.23,63.66 C659.91,65.68 659.58,68.33 659.16,70.33 C658.73,72.34 658.27,74.12 657.69,75.68 C657.11,77.23 656.52,78.68 655.68,79.68 C654.85,80.68 653.18,81.35 652.68,81.69" fill="none" stroke="#000" stroke-width="2.5" stroke-linecap="round" stroke-linejoin="round"/><circle cx="651.68" cy="69.67" r="1.55" fill="#000"/>
<path d="M651.68,135.50 C651.51,135.11 650.79,134.05 650.68,133.16 C650.56,132.27 650.62,131.16 651.01,130.16 C651.40,129.16 652.12,128.04 653.01,127.15 C653.90,126.26 655.13,125.43 656.35,124.82 C657.58,124.20 659.02,123.78 660.36,123.48 C661.69,123.18 663.03,123.01 664.37,123.01 C665.70,123.01 667.15,123.12 668.37,123.48 C669.60,123.84 670.77,124.43 671.71,125.15 C672.66,125.87 673.44,126.76 674.05,127.82 C674.66,128.88 675.16,130.27 675.38,131.49 C675.61,132.72 675.55,133.89 675.38,135.17 C675.22,136.45 674.88,137.84 674.38,139.17 C673.88,140.51 673.21,141.95 672.38,143.18 C671.54,144.40 670.49,145.63 669.37,146.52 C668.26,147.41 666.98,148.05 665.70,148.52 C664.42,148.99 663.03,149.27 661.69,149.32 C660.36,149.38 658.91,149.12 657.69,148.86 C656.46,148.59 655.29,148.00 654.35,147.72 C653.40,147.44 652.74,147.11 652.01,147.19 C651.29,147.26 650.34,148.02 650.01,148.19 M661.03,123.68 C660.89,124.59 660.54,127.13 660.23,129.16 C659.91,131.18 659.58,133.83 659.16,135.83 C658.73,137.84 658.27,139.62 657.69,141.18 C657.11,142.73 656.52,144.18 655.68,145.18 C654.85,146.18 653.18,146.85 652.68,147.19" fill="none" stroke="#000" stroke-width="2.5" stroke-linecap="round" stroke-linejoin="round"/><circle cx="651.68" cy="135.17" r="1.55" fill="#000"/>
<path d="M667.16,188.89 C666.98,188.39 666.79,186.68 666.04,185.89 C665.29,185.10 663.91,184.35 662.66,184.16 C661.40,183.97 659.71,184.22 658.52,184.76 C657.33,185.30 656.14,186.39 655.52,187.39 C654.89,188.39 654.58,189.71 654.77,190.77 C654.95,191.84 655.77,193.05 656.65,193.78 C657.52,194.50 658.96,194.88 660.03,195.13 C661.09,195.38 662.53,195.26 663.03,195.28 M663.03,195.28 C662.47,195.33 660.90,195.27 659.65,195.58 C658.40,195.89 656.77,196.33 655.52,197.16 C654.27,197.98 652.89,199.35 652.14,200.54 C651.39,201.73 650.95,203.04 651.01,204.30 C651.07,205.55 651.64,207.11 652.51,208.05 C653.39,208.99 654.83,209.68 656.27,209.93 C657.71,210.18 659.65,209.99 661.15,209.56 C662.66,209.12 664.22,208.30 665.29,207.30 C666.35,206.30 667.10,204.67 667.54,203.54 C667.98,202.42 667.85,201.04 667.92,200.54" fill="none" stroke="#000" stroke-width="2.85" stroke-linecap="round" stroke-linejoin="round"/>
<path d="M680.72,83.07 C680.56,82.69 679.72,81.70 679.80,80.78 C679.87,79.86 680.33,78.41 681.17,77.57 C682.02,76.73 683.54,76.15 684.84,75.73 C686.14,75.32 687.67,75.02 688.97,75.09 C690.27,75.17 691.80,75.55 692.64,76.19 C693.48,76.83 694.02,77.87 694.02,78.94 C694.02,80.02 693.48,81.54 692.64,82.61 C691.80,83.69 690.04,84.83 688.97,85.37 C687.90,85.90 686.30,85.21 686.22,85.83 C686.14,86.44 687.75,88.04 688.51,89.04 C689.28,90.03 690.07,91.10 690.81,91.79 C691.54,92.48 692.57,92.94 692.92,93.17 M686.68,75.73 C686.53,76.73 686.22,79.63 685.76,81.70 C685.30,83.76 684.77,86.21 683.93,88.12 C683.09,90.03 681.25,92.32 680.72,93.17" fill="none" stroke="#000" stroke-width="1.85" stroke-linecap="round" stroke-linejoin="round"/><circle cx="680.90" cy="82.80" r="1.15" fill="#000"/>
<path d="M680.72,148.57 C680.56,148.19 679.72,147.20 679.80,146.28 C679.87,145.36 680.33,143.91 681.17,143.07 C682.02,142.23 683.54,141.65 684.84,141.23 C686.14,140.82 687.67,140.52 688.97,140.59 C690.27,140.67 691.80,141.05 692.64,141.69 C693.48,142.33 694.02,143.37 694.02,144.44 C694.02,145.52 693.48,147.04 692.64,148.11 C691.80,149.19 690.04,150.33 688.97,150.87 C687.90,151.40 686.30,150.71 686.22,151.33 C686.14,151.94 687.75,153.54 688.51,154.54 C689.28,155.53 690.07,156.60 690.81,157.29 C691.54,157.98 692.57,158.44 692.92,158.67 M686.68,141.23 C686.53,142.23 686.22,145.13 685.76,147.20 C685.30,149.26 684.77,151.71 683.93,153.62 C683.09,155.53 681.25,157.82 680.72,158.67" fill="none" stroke="#000" stroke-width="1.85" stroke-linecap="round" stroke-linejoin="round"/><circle cx="680.90" cy="148.30" r="1.15" fill="#000"/>
<path d="M672.42,206.67 C672.26,206.29 671.42,205.30 671.50,204.38 C671.57,203.46 672.03,202.01 672.87,201.17 C673.72,200.33 675.24,199.75 676.54,199.33 C677.84,198.92 679.37,198.62 680.67,198.69 C681.97,198.77 683.50,199.15 684.34,199.79 C685.18,200.43 685.72,201.47 685.72,202.54 C685.72,203.62 685.18,205.14 684.34,206.21 C683.50,207.29 681.74,208.43 680.67,208.97 C679.60,209.50 678.00,208.81 677.92,209.43 C677.84,210.04 679.45,211.64 680.21,212.64 C680.98,213.63 681.77,214.70 682.51,215.39 C683.24,216.08 684.27,216.54 684.62,216.77 M678.38,199.33 C678.23,200.33 677.92,203.23 677.46,205.30 C677.00,207.36 676.47,209.81 675.63,211.72 C674.79,213.63 672.95,215.92 672.42,216.77" fill="none" stroke="#000" stroke-width="1.85" stroke-linecap="round" stroke-linejoin="round"/><circle cx="672.60" cy="206.40" r="1.15" fill="#000"/>
<g fill="none" stroke="#000" stroke-width="3.1" stroke-linejoin="miter" stroke-linecap="butt">
<path d="M681,58.25 H695.8"/><path d="M685.8,51.2 L680.8,58.25 L685.8,65.3" stroke-width="2.9"/>
<path d="M679,124.05 H694"/><path d="M689.0,117.0 L694.1,124.05 L689.0,131.1" stroke-width="2.9"/>
</g>
</svg></body></html>
